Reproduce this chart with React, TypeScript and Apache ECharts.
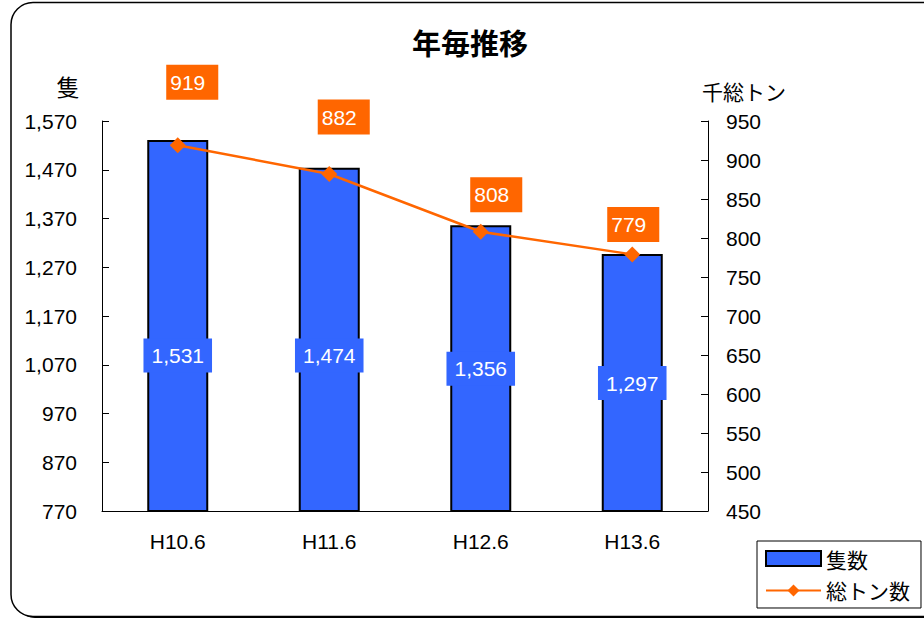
import React, { useEffect, useRef } from "react";
import * as echarts from "echarts";

const categories = ["H10.6", "H11.6", "H12.6", "H13.6"];
const vessels = [1531, 1474, 1356, 1297];
const tonnage = [919, 882, 808, 779];
const leftTicks = [770, 870, 970, 1070, 1170, 1270, 1370, 1470, 1570];
const rightMin = 450;
const rightMax = 950;
const rightStep = 50;

const BLUE = "#3366FF";
const ORANGE = "#FF6600";
const LATIN = "'Liberation Sans', 'Noto Sans CJK JP', sans-serif";
const CJK = "'Noto Sans CJK JP', 'Liberation Sans', sans-serif";

// label placement tweaks (styles, not data)
const barLabelOffsets = [[0, 29.5], [0, 15.5], [0, 0], [0, 0]];
const lineLabelOffsets = [[14.5, -63], [14.5, -57], [15.5, -37], [1, -30]];

export default function App() {
  const ref = useRef<HTMLDivElement>(null);
  useEffect(() => {
    if (!ref.current) return;
    const chart = echarts.init(ref.current, undefined, { renderer: "svg" });
    const fmt = (v: number) => Number(v).toLocaleString("en-US");
    chart.setOption({
      animation: false,
      backgroundColor: "#fff",
      title: {
        text: "年毎推移",
        left: 412,
        top: 27,
        padding: 0,
        textStyle: { fontSize: 29, fontWeight: "bold", fontFamily: CJK, color: "#000" },
      },
      graphic: [
        {
          type: "rect",
          z: -20,
          silent: true,
          shape: { x: 13, y: 4, width: 940, height: 614, r: 22 },
          style: { fill: "#000" },
        },
        {
          type: "rect",
          z: -19,
          silent: true,
          shape: { x: 11, y: 2.5, width: 940, height: 614, r: 22 },
          style: { fill: "#fff", stroke: "#000", lineWidth: 1.5 },
        },
        {
          type: "text",
          x: 68,
          y: 86,
          style: { text: "隻", fontSize: 23, fontFamily: CJK, fill: "#000", align: "center", verticalAlign: "middle" },
        },
        {
          type: "text",
          x: 744,
          y: 91,
          style: { text: "千総トン", fontSize: 21, fontFamily: CJK, fill: "#000", align: "center", verticalAlign: "middle" },
        },
      ],
      legend: {
        orient: "vertical",
        left: 757,
        top: 541,
        padding: [7, 11, 7, 8],
        itemWidth: 55,
        itemHeight: 15,
        itemGap: 11,
        borderColor: "#000",
        borderWidth: 1,
        backgroundColor: "#fff",
        textStyle: { fontSize: 21, fontFamily: CJK, color: "#000" },
        data: [
          { name: "隻数", icon: "rect", itemStyle: { borderColor: "#000", borderWidth: 2 } },
          { name: "総トン数" },
        ],
      },
      grid: { left: 102, right: 216, top: 121, bottom: 110, containLabel: false },
      xAxis: {
        type: "category",
        data: categories,
        axisLine: { lineStyle: { color: "#000", width: 1 } },
        axisTick: { inside: true, length: 7, lineStyle: { color: "#000" } },
        axisLabel: { fontSize: 21, fontFamily: LATIN, color: "#000", margin: 20 },
      },
      yAxis: [
        {
          type: "value",
          min: leftTicks[0],
          max: leftTicks[leftTicks.length - 1],
          axisLine: { show: true, lineStyle: { color: "#000", width: 1 } },
          axisTick: { show: true, inside: true, length: 7, customValues: leftTicks, lineStyle: { color: "#000" } },
          axisLabel: { customValues: leftTicks, formatter: fmt, fontSize: 21, fontFamily: LATIN, color: "#000", margin: 25 },
          splitLine: { show: false },
        },
        {
          type: "value",
          min: rightMin,
          max: rightMax,
          interval: rightStep,
          position: "right",
          axisLine: { show: true, lineStyle: { color: "#000", width: 1 } },
          axisTick: { show: true, inside: true, length: 7, lineStyle: { color: "#000" } },
          axisLabel: { fontSize: 21, fontFamily: LATIN, color: "#000", margin: 18 },
          splitLine: { show: false },
        },
      ],
      series: [
        {
          name: "隻数",
          type: "bar",
          yAxisIndex: 0,
          barWidth: 61,
          itemStyle: { color: BLUE, borderColor: "#000", borderWidth: 2 },
          label: {
            show: true,
            position: "inside",
            formatter: (p: any) => fmt(p.value),
            color: "#fff",
            backgroundColor: BLUE,
            padding: [6.5, 8],
            fontSize: 21,
            lineHeight: 21,
            fontFamily: LATIN,
          },
          data: vessels.map((v, i) => ({ value: v, label: { offset: barLabelOffsets[i] } })),
        },
        {
          name: "総トン数",
          type: "line",
          yAxisIndex: 1,
          symbol: "diamond",
          symbolSize: 16,
          lineStyle: { color: ORANGE, width: 2.5 },
          itemStyle: { color: ORANGE },
          label: {
            show: true,
            position: "inside",
            color: "#fff",
            backgroundColor: ORANGE,
            padding: [7, 13, 7, 4],
            fontSize: 21,
            lineHeight: 21,
            fontFamily: LATIN,
          },
          data: tonnage.map((v, i) => ({ value: v, label: { offset: lineLabelOffsets[i] } })),
        },
      ],
    });
    return () => chart.dispose();
  }, []);
  return (
    <div
      ref={ref}
      style={{ position: "absolute", left: 0, top: 0, width: 924, height: 621 }}
    />
  );
}
